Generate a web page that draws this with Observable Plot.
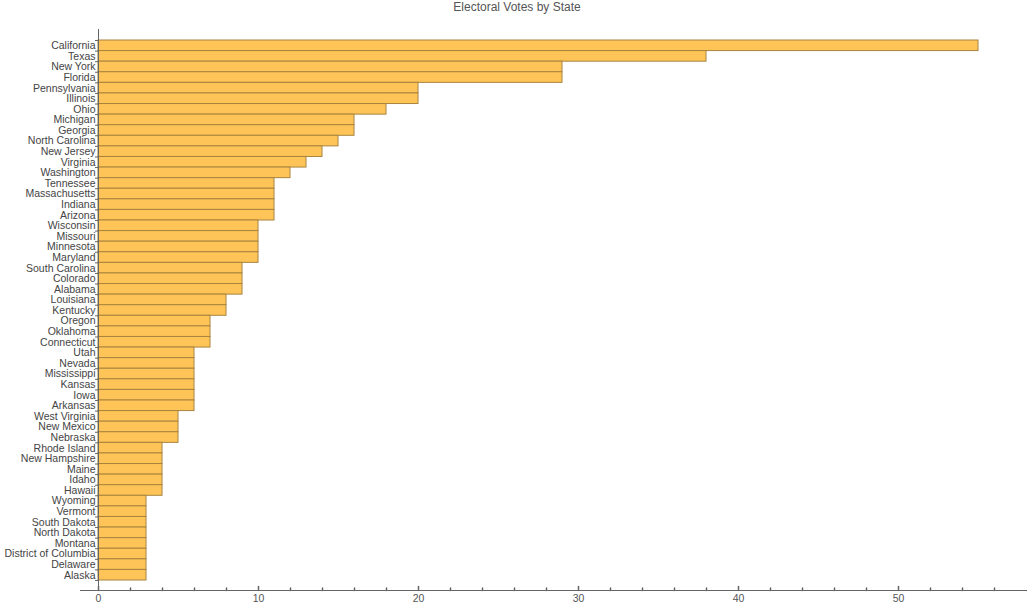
<!DOCTYPE html>
<html>
<head>
<meta charset="utf-8">
<script src="https://cdn.jsdelivr.net/npm/d3@7"></script>
<script src="https://cdn.jsdelivr.net/npm/@observablehq/plot@0.6"></script>
<style>
  html, body { margin: 0; padding: 0; background: #fff; }
  #title { height: 20px; line-height: 20px; text-align: center; font: 12px "Liberation Sans", Arial, sans-serif; color: #555; }
  #chart svg { display: block; }
</style>
</head>
<body>
<div id="title">Electoral Votes by State</div>
<div id="chart"></div>
<script>
const states = ["California","Texas","New York","Florida","Pennsylvania","Illinois","Ohio","Michigan","Georgia","North Carolina","New Jersey","Virginia","Washington","Tennessee","Massachusetts","Indiana","Arizona","Wisconsin","Missouri","Minnesota","Maryland","South Carolina","Colorado","Alabama","Louisiana","Kentucky","Oregon","Oklahoma","Connecticut","Utah","Nevada","Mississippi","Kansas","Iowa","Arkansas","West Virginia","New Mexico","Nebraska","Rhode Island","New Hampshire","Maine","Idaho","Hawaii","Wyoming","Vermont","South Dakota","North Dakota","Montana","District of Columbia","Delaware","Alaska"];
const votes = [55,38,29,29,20,20,18,16,16,15,14,13,12,11,11,11,11,10,10,10,10,9,9,9,8,8,7,7,7,6,6,6,6,6,6,5,5,5,4,4,4,4,4,3,3,3,3,3,3,3,3];
const majorTicks = [0,10,20,30,40,50];
const minorTicks = [2,4,6,8,12,14,16,18,22,24,26,28,32,34,36,38,42,44,46,48,52,54,56];

const data = states.map((s, i) => ({state: s, votes: votes[i]}));

const width = 1034, height = 588, mTop = 20, mBottom = 28;
const bw = (height - mTop - mBottom) / states.length;
const axisColor = "#666";
const tickShape = {draw(ctx, l) { ctx.moveTo(0, 0); ctx.lineTo(0, -l); }};

const chart = Plot.plot({
  width, height,
  marginLeft: 80, marginRight: 8, marginTop: mTop, marginBottom: mBottom,
  style: {fontFamily: "'Liberation Sans', Arial, sans-serif", fontSize: "10.5px", color: "#444", background: "#fff"},
  x: {domain: [-1.125, 58], axis: null},
  y: {domain: states, padding: 0, round: false, axis: null},
  marks: [
    Plot.barX(data, {x: "votes", y: "state", fill: "#ffc457", stroke: "#a8843e", strokeWidth: 1}),
    // y axis line
    Plot.ruleX([0], {stroke: axisColor, insetTop: -11, insetBottom: -10}),
    // y ticks at bar boundaries (pointing left)
    Plot.ruleY(states, {y: d => d, x1: 0, x2: 0, insetLeft: -3, dy: -bw / 2, stroke: axisColor}),
    Plot.ruleY(states.slice(-1), {y: d => d, x1: 0, x2: 0, insetLeft: -3, dy: bw / 2, stroke: axisColor}),
    // state labels
    Plot.text(data, {x: 0, y: "state", text: "state", textAnchor: "end", dx: -3, fill: "#444"}),
    // x axis line
    Plot.frame({anchor: "bottom", dy: 10, stroke: axisColor}),
    // x ticks pointing up
    Plot.vector(majorTicks, {x: d => d, frameAnchor: "bottom", dy: 10, length: 4, anchor: "start", shape: tickShape, stroke: axisColor}),
    Plot.vector(minorTicks, {x: d => d, frameAnchor: "bottom", dy: 10, length: 2.5, anchor: "start", shape: tickShape, stroke: axisColor}),
    Plot.axisX({anchor: "bottom", ticks: majorTicks, tickSize: 0, tickPadding: 14, tickFormat: d => String(d), fill: "#555", label: null})
  ]
});
document.getElementById("chart").appendChild(chart);
</script>
</body>
</html>
